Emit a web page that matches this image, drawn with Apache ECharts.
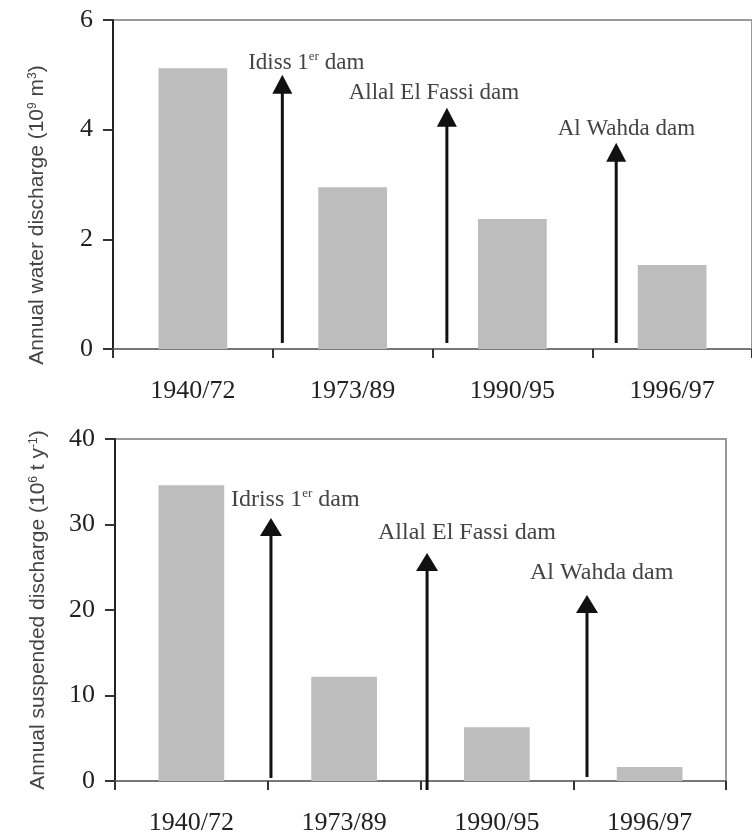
<!DOCTYPE html>
<html>
<head>
<meta charset="utf-8">
<script src="https://cdn.jsdelivr.net/npm/echarts@6/dist/echarts.min.js"></script>
<style>
html,body{margin:0;padding:0;background:#fff;overflow:hidden;}
#c{width:752px;height:838px;}
</style>
</head>
<body>
<div id="c"></div>
<script>
// ---- data ----
const categories = ['1940/72', '1973/89', '1990/95', '1996/97'];
const waterDischarge = [5.12, 2.95, 2.37, 1.53];          // 10^9 m^3
const suspendedDischarge = [34.6, 12.2, 6.3, 1.64];       // 10^6 t y^-1
const waterTicks = { min: 0, max: 6, interval: 2 };
const sedTicks = { min: 0, max: 40, interval: 10 };
const waterTitle = '{a|Annual water discharge (10}{s|9}{a| m}{s|3}{a|)}';
const sedTitle = '{a|Annual suspended discharge (10}{s|6}{a| t y}{s|-1}{a|)}';

// dam annotations (x in category-index units, y in value units)
const damNames = ['{n|Idiss 1}{s|er}{n| dam}', '{n|Allal El Fassi dam}', '{n|Al Wahda dam}'];
const damNamesBottom = ['{n|Idriss 1}{s|er}{n| dam}', '{n|Allal El Fassi dam}', '{n|Al Wahda dam}'];
const topArrowX = [0.56, 1.59, 2.65];
const topArrowBase = [0.11, 0.11, 0.11];
const topArrowTip = [5.0, 4.40, 3.76];
const topLabelX = [0.346, 0.975, 2.284];
const topLabelY = [5.22, 4.67, 4.01];
const botArrowX = [0.521, 1.543, 2.59];
const botArrowBase = [0.35, -1.05, 0.47];
const botArrowTip = [30.76, 26.67, 21.75];
const botLabelX = [0.259, 1.222, 2.217];
const botLabelY = [32.87, 29.0, 24.33];

const serif = '"Liberation Serif", "Times New Roman", serif';
const sans = '"Liberation Sans", Arial, sans-serif';

function arrowData(xs, b, t, lx, ly) {
  return xs.map((x, i) => [x, b[i], t[i], lx[i], ly[i]]);
}

function makeArrowRenderer(names, headW, headH, fs) {
  return function (params, api) {
    const base = api.coord([api.value(0), api.value(1)]);
    const tip = api.coord([api.value(0), api.value(2)]);
    const lab = api.coord([api.value(3), api.value(4)]);
    return {
      type: 'group',
      children: [
        { type: 'line', shape: { x1: base[0], y1: base[1], x2: tip[0], y2: tip[1] + headH - 2 },
          style: { stroke: '#111', lineWidth: 3 } },
        { type: 'polygon', shape: { points: [[tip[0], tip[1]], [tip[0] - headW / 2, tip[1] + headH], [tip[0] + headW / 2, tip[1] + headH]] },
          style: { fill: '#111' } },
        { type: 'text', x: lab[0], y: lab[1],
          style: { text: names[params.dataIndex], align: 'left', verticalAlign: 'middle',
            rich: {
              n: { fontFamily: serif, fontSize: fs, fill: '#444', lineHeight: fs + 2 },
              s: { fontFamily: serif, fontSize: Math.round(fs * 0.55), fill: '#444', verticalAlign: 'top', lineHeight: fs + 2 }
            } } }
      ]
    };
  };
}

const catAxis = (gi) => ({
  type: 'category', gridIndex: gi, data: categories, boundaryGap: true,
  axisLine: { lineStyle: { color: '#777', width: 2 } },
  axisTick: { show: true, length: 9, lineStyle: { color: '#333', width: 2 } },
  axisLabel: { fontFamily: serif, fontSize: 26, color: '#222', margin: 29 }
});
const hiddenX = (gi) => ({ type: 'value', gridIndex: gi, min: -0.5, max: 3.5, show: false });
const valAxis = (gi, t) => ({
  type: 'value', gridIndex: gi, min: t.min, max: t.max, interval: t.interval,
  axisLine: { show: true, onZero: false, lineStyle: { color: '#222', width: 2 } },
  axisTick: { show: true, length: 10, lineStyle: { color: '#333', width: 2 } },
  splitLine: { show: false },
  axisLabel: { fontFamily: serif, fontSize: 26, color: '#222', margin: 20 }
});
const titleRich = {
  a: { fontFamily: sans, fontSize: 21, fill: '#444' },
  s: { fontFamily: sans, fontSize: 12, fill: '#444', verticalAlign: 'top' }
};

const chart = echarts.init(document.getElementById('c'), null, { renderer: 'canvas' });
chart.setOption({
  animation: false,
  backgroundColor: '#fff',
  grid: [
    { left: 113, right: -9, top: 20, bottom: 489, show: true, borderColor: '#999', borderWidth: 2, backgroundColor: 'transparent' },
    { left: 115, right: 26, top: 439, bottom: 57, show: true, borderColor: '#999', borderWidth: 2, backgroundColor: 'transparent' }
  ],
  graphic: [
    { type: 'text', x: 37, y: 215, rotation: Math.PI / 2,
      style: { text: waterTitle, align: 'center', verticalAlign: 'middle', rich: titleRich } },
    { type: 'text', x: 38, y: 610, rotation: Math.PI / 2,
      style: { text: sedTitle, align: 'center', verticalAlign: 'middle', rich: titleRich } }
  ],
  xAxis: [catAxis(0), hiddenX(0), catAxis(1), hiddenX(1)],
  yAxis: [valAxis(0, waterTicks), valAxis(1, sedTicks)],
  series: [
    { type: 'bar', xAxisIndex: 0, yAxisIndex: 0, data: waterDischarge, barWidth: '43%',
      itemStyle: { color: '#bdbdbd' } },
    { type: 'bar', xAxisIndex: 2, yAxisIndex: 1, data: suspendedDischarge, barWidth: '43%',
      itemStyle: { color: '#bdbdbd' } },
    { type: 'custom', xAxisIndex: 1, yAxisIndex: 0, clip: false, silent: true,
      data: arrowData(topArrowX, topArrowBase, topArrowTip, topLabelX, topLabelY),
      renderItem: makeArrowRenderer(damNames, 20, 19, 23) },
    { type: 'custom', xAxisIndex: 3, yAxisIndex: 1, clip: false, silent: true,
      data: arrowData(botArrowX, botArrowBase, botArrowTip, botLabelX, botLabelY),
      renderItem: makeArrowRenderer(damNamesBottom, 22, 18, 24) }
  ]
});
</script>
</body>
</html>
